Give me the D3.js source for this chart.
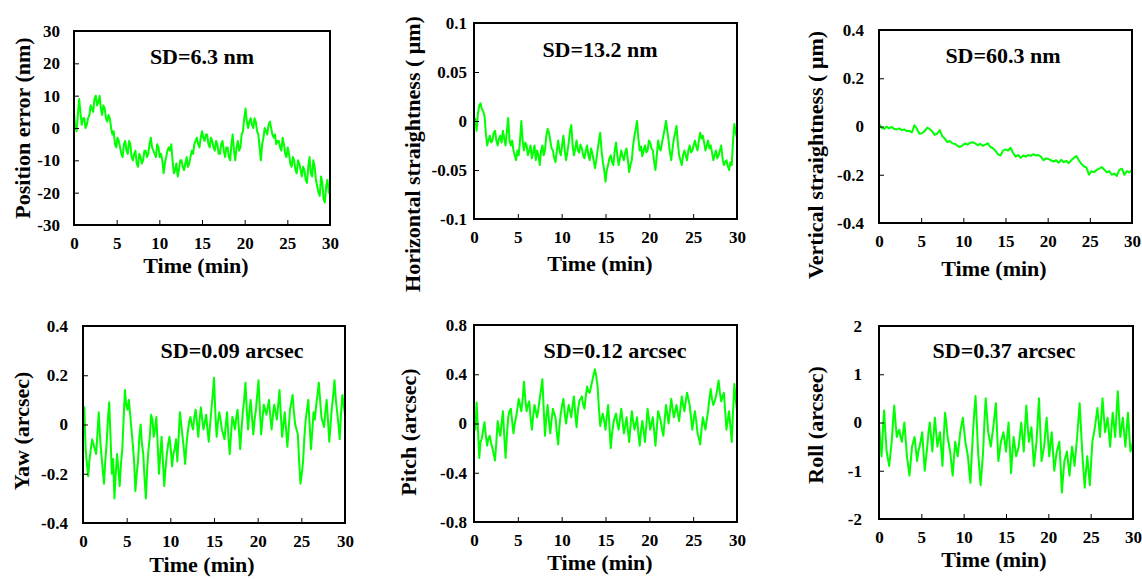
<!DOCTYPE html>
<html>
<head>
<meta charset="utf-8">
<script src="https://cdn.jsdelivr.net/npm/d3@7"></script>
<style>
  body { margin: 0; background: #fff; }
  text { font-family: "Liberation Serif", "Times New Roman", serif; font-weight: bold; fill: #000; }
</style>
</head>
<body>
<svg id="viz" width="1142" height="579"></svg>
<script>
// time axis (min)
var timeTicks = [0, 5, 10, 15, 20, 25, 30]
var timeRange = [0, 30]

// series, sampled evenly over 0..30 min
var positionError = [5, 0, -1, 4, 9, 5, 1, 3, 3, 0, 1, 3, 4, 7, 6, 5, 9, 10, 7, 8,
    10, 6, 4, 7, 6, 3, 2, 4, 3, 0, -2, -1, -5, -6, -3, -4, -6, -8, -9, -5,
    -4, -7, -8, -4, -5, -9, -10, -8, -7, -11, -12, -8, -9, -11, -10, -7, -7, -9, -8, -5,
    -3, -6, -7, -8, -9, -5, -6, -9, -8, -10, -14, -11, -9, -7, -6, -7, -5, -10, -14, -13,
    -11, -15, -13, -10, -10, -12, -13, -11, -9, -12, -11, -9, -7, -8, -5, -4, -3, -5, -6, -3,
    -1, -3, -4, -2, -2, -5, -6, -3, -4, -6, -7, -4, -5, -8, -8, -5, -4, -7, -9, -6,
    -6, -9, -10, -5, -2, -7, -10, -6, -4, -7, -6, -2, -1, 3, 6, 2, 0, 2, 3, 1,
    0, 3, 2, -1, -2, -6, -10, -5, -3, 0, -1, -2, 1, 2, 0, -2, -3, -2, -5, -4,
    -4, -6, -7, -3, -5, -8, -9, -6, -8, -11, -12, -9, -10, -13, -14, -10, -11, -13, -15, -12,
    -13, -16, -17, -12, -9, -14, -15, -10, -12, -16, -18, -20, -21, -15, -17, -22, -23, -18, -16, -20, -20]

var horizontalStraightness = [-0.005, 0.002, -0.01, 0.008, 0.016, 0.018, 0.012, 0.01, 0.005, -0.012,
    -0.025, -0.02, -0.015, -0.022, -0.02, -0.012, -0.01, -0.02, -0.025, -0.018,
    -0.015, -0.022, -0.01, -0.018, -0.025, -0.01, 0.003, -0.02, -0.025, -0.02,
    -0.03, -0.035, -0.04, -0.03, -0.035, -0.02, 0, -0.02, -0.03, -0.022,
    -0.025, -0.035, -0.03, -0.025, -0.038, -0.032, -0.025, -0.04, -0.03, -0.035,
    -0.045, -0.03, -0.025, -0.035, -0.03, -0.015, -0.008, -0.012, -0.02, -0.028,
    -0.03, -0.038, -0.042, -0.03, -0.02, -0.03, -0.035, -0.025, -0.015, -0.03,
    -0.04, -0.032, -0.022, -0.01, -0.004, -0.025, -0.035, -0.028, -0.02, -0.03,
    -0.032, -0.024, -0.028, -0.035, -0.038, -0.03, -0.025, -0.035, -0.04, -0.028,
    -0.033, -0.04, -0.048, -0.04, -0.03, -0.02, -0.012, -0.03, -0.042, -0.05,
    -0.062, -0.05, -0.045, -0.038, -0.035, -0.042, -0.045, -0.03, -0.022, -0.035,
    -0.045, -0.038, -0.03, -0.036, -0.04, -0.032, -0.028, -0.04, -0.052, -0.045,
    -0.04, -0.025, -0.015, -0.008, 0, -0.018, -0.03, -0.026, -0.036, -0.03,
    -0.025, -0.032, -0.03, -0.02, -0.022, -0.028, -0.03, -0.042, -0.05, -0.035,
    -0.02, -0.028, -0.03, -0.022, -0.015, -0.008, 0, -0.01, -0.02, -0.032,
    -0.04, -0.028, -0.018, -0.012, -0.005, -0.022, -0.035, -0.04, -0.045, -0.035,
    -0.03, -0.035, -0.04, -0.03, -0.025, -0.032, -0.03, -0.025, -0.02, -0.026,
    -0.03, -0.02, -0.012, -0.018, -0.015, -0.022, -0.03, -0.025, -0.02, -0.028,
    -0.025, -0.032, -0.04, -0.035, -0.03, -0.038, -0.035, -0.03, -0.025, -0.038,
    -0.045, -0.042, -0.04, -0.046, -0.05, -0.042, -0.045, -0.02, -0.003, -0.012, -0.017]

var verticalStraightness = [0.01, -0.005, -0.01, 0, -0.008, -0.002, -0.01, -0.012, -0.008, -0.015,
    -0.012, -0.02, -0.018, -0.025, 0.005, -0.01, -0.03, -0.028, -0.02, -0.005,
    -0.01, -0.02, -0.035, -0.03, -0.015, -0.04, -0.05, -0.065, -0.06, -0.07,
    -0.072, -0.08, -0.085, -0.078, -0.07, -0.075, -0.068, -0.065, -0.07, -0.078,
    -0.072, -0.08, -0.075, -0.07, -0.085, -0.09, -0.1, -0.115, -0.12, -0.1,
    -0.095, -0.1, -0.088, -0.11, -0.125, -0.118, -0.13, -0.12, -0.125, -0.118,
    -0.122, -0.115, -0.12, -0.118, -0.125, -0.14, -0.132, -0.135, -0.14, -0.145,
    -0.14, -0.15, -0.138, -0.148, -0.142, -0.152, -0.14, -0.13, -0.122, -0.14,
    -0.155, -0.165, -0.17, -0.2, -0.185, -0.19, -0.18, -0.175, -0.168, -0.178,
    -0.19, -0.185, -0.2, -0.195, -0.205, -0.18, -0.175, -0.2, -0.185, -0.19, -0.18]

var yaw = [0.02, 0.07, -0.1, -0.16, -0.21, -0.14, -0.1, -0.06, -0.08, -0.1,
    -0.12, -0.04, 0.05, -0.05, -0.12, -0.18, -0.24, -0.15, -0.08, 0.02,
    0.09, -0.05, -0.2, -0.14, -0.3, -0.2, -0.12, -0.18, -0.25, -0.16,
    -0.1, 0.02, 0.14, 0.08, 0.06, 0.1, 0.04, -0.02, -0.08, -0.15,
    -0.27, -0.2, -0.15, -0.05, 0, -0.08, -0.12, -0.22, -0.3, -0.18,
    -0.1, -0.05, 0.04, 0.02, -0.05, -0.02, 0.03, -0.08, -0.2, -0.12,
    -0.05, -0.15, -0.25, -0.18, -0.12, -0.08, -0.05, -0.1, -0.17, -0.12,
    -0.1, -0.06, -0.15, -0.05, 0.05, 0, -0.05, -0.1, -0.16, -0.08,
    -0.03, 0.01, 0.03, 0, -0.02, 0.03, 0.06, 0.01, -0.05, 0.02,
    0.07, 0.02, -0.02, 0.01, 0.04, -0.02, -0.07, 0, 0.06, 0.12,
    0.19, 0.05, -0.05, 0.01, 0.05, 0.02, -0.02, -0.04, -0.06, 0,
    0.05, -0.05, -0.12, -0.04, 0.03, 0.01, -0.02, 0.03, 0.06, -0.02,
    -0.1, -0.02, 0.05, 0.1, 0.17, 0.06, -0.02, 0.05, 0.1, 0.03,
    -0.04, 0.02, 0.06, 0.12, 0.18, 0.06, -0.04, 0.02, 0.08, 0.06,
    0.04, 0.07, 0.1, 0.03, -0.02, 0.04, 0.08, 0.05, 0.02, 0.08,
    0.14, 0.04, -0.05, 0, 0.05, -0.02, -0.09, -0.02, 0.06, 0.09,
    0.12, 0.05, 0, -0.02, -0.04, -0.15, -0.24, -0.2, -0.15, -0.05,
    0.02, 0.06, 0.1, 0, -0.1, -0.03, 0.05, 0.02, 0.08, 0.12,
    0.17, 0.1, 0.03, 0.01, -0.01, 0.05, 0.1, 0.02, -0.07, 0,
    0.07, 0.12, 0.18, 0.1, 0.05, 0, -0.06, 0.05, 0.12, 0.08, 0.04]

var pitch = [0.02, -0.05, 0.17, -0.05, -0.28, -0.15, -0.12, -0.05, 0.01, -0.1,
    -0.18, -0.12, -0.1, -0.16, -0.2, -0.25, -0.3, -0.15, 0.02, -0.05,
    -0.1, 0, 0.1, -0.1, -0.28, -0.1, 0.05, 0.1, 0.12, 0.02,
    -0.08, 0, 0.05, 0.12, 0.2, 0.15, 0.1, 0.2, 0.34, 0.2,
    0.1, 0.15, 0.18, 0.05, -0.05, 0.06, 0.15, 0.1, 0.05, 0.12,
    0.2, 0.28, 0.36, 0.12, -0.1, 0.05, 0.15, 0.02, -0.08, 0.03,
    0.12, 0.08, 0.05, -0.08, -0.17, -0.02, 0.08, 0.15, 0.2, 0.08,
    0, 0.08, 0.15, 0.1, 0.05, 0.15, 0.22, 0.08, -0.03, 0.1,
    0.18, 0.2, 0.22, 0.15, 0.12, 0.22, 0.3, 0.26, 0.25, 0.3,
    0.35, 0.4, 0.44, 0.38, 0.3, 0.12, -0.02, 0.04, 0.08, 0.02,
    -0.05, 0.06, 0.15, -0.02, -0.2, -0.08, 0, 0.05, 0.08, 0,
    -0.05, 0.04, 0.12, 0.02, -0.08, -0.02, 0.05, -0.05, -0.15, -0.02,
    0.1, 0.02, -0.05, 0, 0.05, -0.08, -0.18, -0.06, 0.02, -0.06,
    -0.15, -0.02, 0.12, 0.04, -0.05, 0, 0.05, -0.06, -0.18, -0.04,
    0.1, 0.06, 0.02, -0.05, -0.1, 0.03, 0.15, 0.08, 0, 0.1,
    0.2, 0.12, 0.05, 0.1, 0.15, 0.08, 0.02, 0.12, 0.22, 0.15,
    0.1, 0.18, 0.25, 0.2, 0.15, 0.05, -0.05, 0.03, 0.1, 0.02,
    -0.08, -0.12, -0.17, -0.05, 0.05, 0, -0.05, 0.03, 0.1, 0.2,
    0.28, 0.2, 0.15, 0.18, 0.22, 0.28, 0.35, 0.25, 0.18, 0.22,
    0.25, 0.1, -0.05, 0.03, 0.1, -0.02, -0.15, 0.1, 0.32, 0.2, 0.1]

var roll = [0, -0.4, -0.7, -0.2, 0.25, -0.2, -0.6, -0.75, -0.9, -0.65,
    -0.4, 0, 0.35, 0, -0.3, -0.2, -0.15, -0.3, -0.4, -0.2,
    0, -0.35, -0.7, -0.9, -1.1, -0.8, -0.5, -0.4, -0.3, -0.55,
    -0.8, -0.6, -0.5, -0.35, -0.2, -0.6, -1.0, -0.75, -0.5, -0.2,
    0, -0.3, -0.6, -0.25, 0.1, -0.2, -0.5, -0.35, -0.2, -0.55,
    -0.9, -0.3, 0.2, 0, -0.3, -0.45, -0.6, -0.85, -1.1, -0.75,
    -0.4, -0.55, -0.7, -0.45, -0.2, -0.05, 0.1, -0.15, -0.4, -0.55,
    -0.7, -1.0, -1.25, -0.7, -0.2, 0.2, 0.55, 0, -0.6, -0.95,
    -1.3, -0.95, -0.6, 0, 0.5, 0.15, -0.2, -0.35, -0.5, -0.3,
    -0.1, 0.15, 0.4, -0.2, -0.8, -0.6, -0.4, -0.3, -0.2, -0.4,
    -0.6, -0.3, 0, -0.5, -1.05, -0.65, -0.3, -0.5, -0.7, -0.6,
    -0.5, -0.25, 0, -0.3, -0.6, -0.1, 0.35, -0.05, -0.4, -0.25,
    -0.1, -0.5, -0.9, -0.65, -0.4, 0.05, 0.5, -0.15, -0.8, -0.65,
    -0.5, -0.2, 0.1, -0.3, -0.7, -0.45, -0.2, -0.6, -1.0, -0.8,
    -0.6, -0.5, -0.4, -0.9, -1.45, -1.1, -0.8, -0.7, -0.6, -0.85,
    -1.1, -0.8, -0.5, -0.7, -0.9, -0.6, -0.3, 0.05, 0.4, -0.1,
    -0.6, -1.0, -1.35, -1.0, -0.7, -1.0, -1.3, -0.85, -0.4, -0.25,
    -0.1, 0.1, 0.3, 0, -0.3, 0.1, 0.5, 0.15, -0.2, -0.05,
    0.1, -0.2, -0.5, -0.15, 0.2, -0.05, -0.3, 0.2, 0.65, 0.15,
    -0.3, -0.1, 0.1, -0.2, -0.5, -0.15, 0.2, -0.2, -0.6, -0.5, -0.4]

// y tick values per panel
var positionTicks = [-30, -20, -10, 0, 10, 20, 30]
var horizontalTicks = [-0.1, -0.05, 0, 0.05, 0.1]
var verticalTicks = [-0.4, -0.2, 0, 0.2, 0.4]
var yawTicks = [-0.4, -0.2, 0, 0.2, 0.4]
var pitchTicks = [-0.8, -0.4, 0, 0.4, 0.8]
var rollTicks = [-2, -1, 0, 1, 2]

var yTitles = ["Position error (nm)", "Horizontal straightness ( \u03bcm)", "Vertical straightness ( \u03bcm)",
    "Yaw (arcsec)", "Pitch (arcsec)", "Roll (arcsec)"]
var sdLabels = ["SD=6.3 nm", "SD=13.2 nm", "SD=60.3 nm", "SD=0.09 arcsec", "SD=0.12 arcsec", "SD=0.37 arcsec"]
var xTitle = "Time (min)"

let viz = d3.select("#viz")
viz.append("rect").attr("width", 1142).attr("height", 579).attr("fill", "#fff")

// layout of each panel (frame box, label positions)
let panels = [
    {values: positionError, ticks: positionTicks, box: [74, 31, 330, 225], gap: 14, title: [22, 128], sd: [202, 64], xt: [196, 273]},
    {values: horizontalStraightness, ticks: horizontalTicks, box: [474, 23, 737, 219], gap: 7, title: [412, 154], sd: [600, 57], xt: [600, 271]},
    {values: verticalStraightness, ticks: verticalTicks, box: [879, 30, 1132, 223], gap: 15, title: [815, 155], sd: [1003, 63], xt: [994, 276]},
    {values: yaw, ticks: yawTicks, box: [83, 326, 345, 523], gap: 15, title: [21, 431], sd: [232, 358], xt: [202, 572]},
    {values: pitch, ticks: pitchTicks, box: [474, 325, 737, 522], gap: 7, title: [408, 432], sd: [615, 358], xt: [600, 570]},
    {values: roll, ticks: rollTicks, box: [879, 326, 1133, 519], gap: 17, title: [815, 425], sd: [1004, 358], xt: [994, 567]}
]

panels.forEach(function (p, i) {
    let [x0, y0, x1, y1] = p.box
    let x = d3.scaleLinear().domain(timeRange).range([x0, x1])
    let y = d3.scaleLinear().domain(d3.extent(p.ticks)).range([y1, y0])
    let step = (timeRange[1] - timeRange[0]) / (p.values.length - 1)
    let g = viz.append("g").attr("class", "panel")

    let line = d3.line()
        .x((d, k) => x(timeRange[0] + k * step))
        .y(d => y(d))

    g.append("path")
        .datum(p.values)
        .attr("d", line)
        .attr("fill", "none")
        .attr("stroke", "#00ff00")
        .attr("stroke-width", 2)
        .attr("stroke-linejoin", "round")

    let yAxis = g.append("g")
        .attr("transform", `translate(${x0},0)`)
        .call(d3.axisLeft(y).tickValues(p.ticks).tickSizeInner(-5).tickSizeOuter(0).tickPadding(p.gap).tickFormat(d => String(d)))
    let xAxis = g.append("g")
        .attr("transform", `translate(0,${y1})`)
        .call(d3.axisBottom(x).tickValues(timeTicks).tickSizeInner(-5).tickSizeOuter(0).tickPadding(12))
    ;[yAxis, xAxis].forEach(a => {
        a.select(".domain").remove()
        a.selectAll(".tick line").attr("stroke", "#000").attr("stroke-width", 1)
        a.selectAll("text")
            .style("font-family", '"Liberation Serif", "Times New Roman", serif')
            .style("font-weight", "bold")
            .style("font-size", "17px")
            .attr("fill", "#000")
    })

    g.append("rect")
        .attr("x", x0).attr("y", y0)
        .attr("width", x1 - x0).attr("height", y1 - y0)
        .attr("fill", "none")
        .attr("stroke", "#000")
        .attr("stroke-width", 2)

    g.append("text")
        .attr("transform", `translate(${p.title[0]},${p.title[1]}) rotate(-90)`)
        .attr("text-anchor", "middle")
        .attr("dy", "0.35em")
        .style("font-size", "22px")
        .text(yTitles[i])

    g.append("text")
        .attr("x", p.sd[0]).attr("y", p.sd[1])
        .attr("text-anchor", "middle")
        .style("font-size", "22px")
        .text(sdLabels[i])

    g.append("text")
        .attr("x", p.xt[0]).attr("y", p.xt[1])
        .attr("text-anchor", "middle")
        .style("font-size", "22px")
        .text(xTitle)
})
</script>
</body>
</html>
